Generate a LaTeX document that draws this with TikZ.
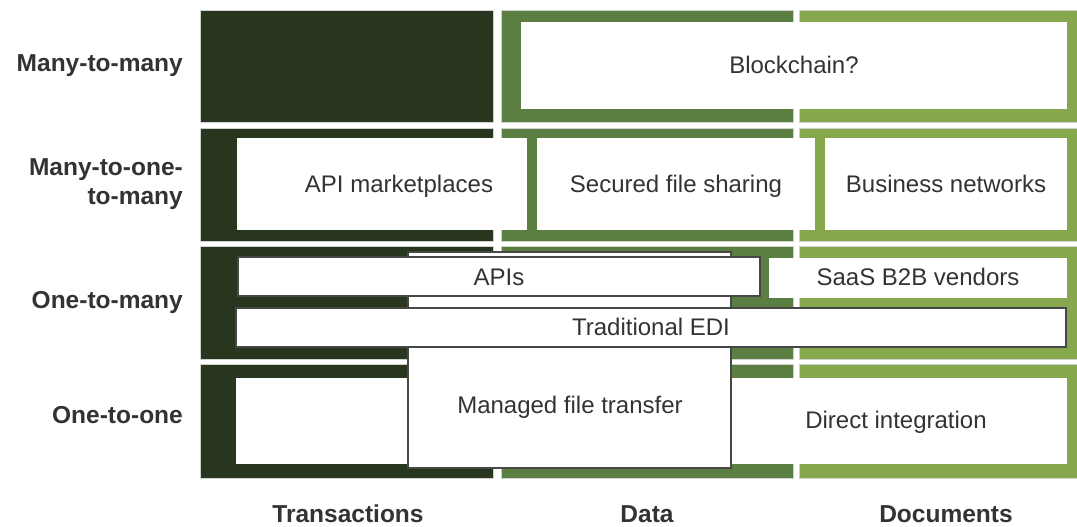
\documentclass[tikz,border=0pt]{standalone}
\usepackage{fontspec}
\setmainfont{Liberation Sans}
\definecolor{txdark}{HTML}{29361F}
\definecolor{datamid}{HTML}{5B7F42}
\definecolor{doclight}{HTML}{86A74B}
\definecolor{ink}{HTML}{333333}
\definecolor{edge}{HTML}{474747}
\tikzset{
  cell/.style={rectangle, draw=black!18, line width=0.5pt, inner sep=0pt, outer sep=0pt, anchor=north west},
  blank/.style={rectangle, fill=white, inner sep=0pt, outer sep=0pt, anchor=north west},
  framed/.style={blank, draw=edge, line width=1.1pt},
  txt/.style={font=\fontsize{24}{28}\selectfont, text=ink, anchor=base, inner sep=0pt},
  boldtxt/.style={font=\bfseries\fontsize{24.5}{29}\selectfont, text=ink, anchor=base, inner sep=0pt},
  rowlab/.style={boldtxt, anchor=base east},
}
\begin{document}
\begin{tikzpicture}[x=1pt, y=-1pt]
\fill[white] (0,0) rectangle (1077,527);
\useasboundingbox (0,0) rectangle (1077,527);

% grid of cells: columns Transactions / Data / Documents, four rows
\node[cell, fill=txdark,   minimum width=293pt, minimum height=112pt] (t1) at (200,10) {};
\node[cell, fill=datamid,  minimum width=292pt, minimum height=112pt] (d1) at (501,10) {};
\node[cell, fill=doclight, minimum width=278pt, minimum height=112pt] (c1) at (799,10) {};
\node[cell, fill=txdark,   minimum width=293pt, minimum height=113pt] (t2) at (200,128) {};
\node[cell, fill=datamid,  minimum width=292pt, minimum height=113pt] (d2) at (501,128) {};
\node[cell, fill=doclight, minimum width=278pt, minimum height=113pt] (c2) at (799,128) {};
\node[cell, fill=txdark,   minimum width=293pt, minimum height=113pt] (t3) at (200,246) {};
\node[cell, fill=datamid,  minimum width=292pt, minimum height=113pt] (d3) at (501,246) {};
\node[cell, fill=doclight, minimum width=278pt, minimum height=113pt] (c3) at (799,246) {};
\node[cell, fill=txdark,   minimum width=293pt, minimum height=114pt] (t4) at (200,364) {};
\node[cell, fill=datamid,  minimum width=292pt, minimum height=114pt] (d4) at (501,364) {};
\node[cell, fill=doclight, minimum width=278pt, minimum height=114pt] (c4) at (799,364) {};

% white technology boxes
\node[blank, minimum width=546pt, minimum height=87pt] (chain) at (521,22) {};
\node[blank, minimum width=290pt, minimum height=92pt] (apim) at (237,138) {};
\node[blank, minimum width=278pt, minimum height=92pt] (sfs) at (537,138) {};
\node[blank, minimum width=242pt, minimum height=92pt] (bnet) at (825,138) {};
\node[blank, minimum width=831pt, minimum height=86pt] (direct) at (236,378) {};
\node[framed, minimum width=323pt, minimum height=216pt] (mft) at (408,252) {};
\node[framed, minimum width=522pt, minimum height=39pt] (apis) at (238,257) {};
\node[blank, minimum width=298pt, minimum height=40pt] (saas) at (769,258) {};
\node[framed, minimum width=830pt, minimum height=39pt] (edi) at (236,308) {};

% box texts
\node[txt] (tchain) at (794,74) {Blockchain?};
\node[txt] (tapim) at (399,192) {API marketplaces};
\node[txt] (tsfs) at (676,192) {Secured file sharing};
\node[txt] (tbnet) at (946,192) {Business networks};
\node[txt] (tapis) at (499,285) {APIs};
\node[txt] (tsaas) at (918,285) {SaaS B2B vendors};
\node[txt] (tedi) at (651,335) {Traditional EDI};
\node[txt] (tmft) at (570,413) {Managed file transfer};
\node[txt] (tdirect) at (896,428) {Direct integration};

% row labels
\node[rowlab] (lab1) at (183,71) {Many-to-many};
\node[rowlab] (lab2a) at (183,175) {Many-to-one-};
\node[rowlab] (lab2b) at (183,204) {to-many};
\node[rowlab] (lab3) at (183,308) {One-to-many};
\node[rowlab] (lab4) at (183,423) {One-to-one};

% column labels
\node[boldtxt] (col1) at (348,522) {Transactions};
\node[boldtxt] (col2) at (647,522) {Data};
\node[boldtxt] (col3) at (946,522) {Documents};
\end{tikzpicture}
\end{document}
